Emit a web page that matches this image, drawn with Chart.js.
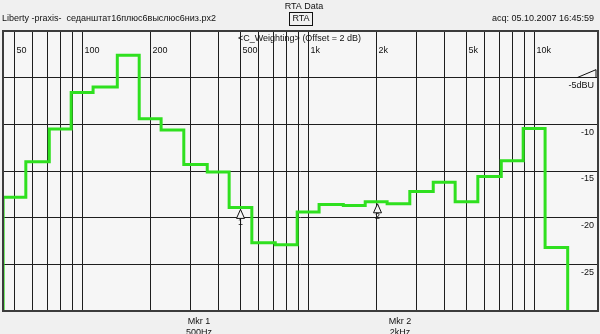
<!DOCTYPE html>
<html>
<head>
<meta charset="utf-8">
<script src="https://cdn.jsdelivr.net/npm/chart.js@4"></script>
<style>
  html, body { margin: 0; padding: 0; background: #f0f0f0; }
  #wrap { position: relative; width: 600px; height: 334px; }
</style>
</head>
<body>
<div id="wrap"><canvas id="rtaChart" width="600" height="334"></canvas></div>
<script>
// 1/3 octave bands (Hz) and measured levels (dB)
const bandCenters = [50, 63, 80, 100, 125, 160, 200, 250, 315, 400, 500, 630, 800,
    1000, 1250, 1600, 2000, 2500, 3150, 4000, 5000, 6300, 8000, 10000, 12500];
const bandLevels = [-17.8, -14.0, -10.5, -6.6, -6.0, -2.6, -9.4, -10.6, -14.3, -15.1, -18.9, -22.7, -22.9,
    -19.4, -18.6, -18.7, -18.3, -18.5, -17.2, -16.2, -18.3, -15.6, -13.9, -10.45, -23.2];

// axis grid + labels
const gridFreqs = [50, 60, 70, 80, 90, 100, 200, 300, 400, 500, 600, 700, 800, 900,
    1000, 2000, 3000, 4000, 5000, 6000, 7000, 8000, 9000, 10000];
const freqLabelValues = [50, 100, 200, 500, 1000, 2000, 5000, 10000];
const freqLabels = ['50', '100', '200', '500', '1k', '2k', '5k', '10k'];
const levelTickValues = [-5, -10, -15, -20, -25];
const levelTickLabels = ['-5dBU', '-10', '-15', '-20', '-25'];

// markers
const markerBands = [500, 2000];
const markerIds = ['1', '2'];
const markerNames = ['Mkr 1', 'Mkr 2'];
const markerFreqText = ['500Hz', '2kHz'];

const X_MIN = 44.5, X_MAX = 19100, Y_MIN = -30, Y_MAX = 0;
const FONT = '"Liberation Sans", Arial, sans-serif';

// stepped outline: each band level held from its lower edge to its upper edge
const halfBand = Math.pow(10, 0.05);
const nBands = bandCenters.length;
const stepPoints = [{ x: bandCenters[0] / halfBand, y: Y_MIN }];
bandCenters.forEach((f, i) => stepPoints.push({ x: f / halfBand, y: bandLevels[i] }));
const lastEdge = bandCenters[nBands - 1] * halfBand;
stepPoints.push({ x: lastEdge, y: bandLevels[nBands - 1] });
stepPoints.push({ x: lastEdge, y: Y_MIN });

const decorPlugin = {
    id: 'rtaDecor',
    beforeDraw(chart) {
        const ctx = chart.ctx, a = chart.chartArea;
        ctx.save();
        ctx.fillStyle = '#f0f0f0';
        ctx.fillRect(0, 0, chart.width, chart.height);
        ctx.fillStyle = '#f6f6f6';
        ctx.fillRect(a.left, a.top, a.right - a.left, a.bottom - a.top);
        ctx.restore();
    },
    afterDraw(chart) {
        const ctx = chart.ctx, a = chart.chartArea;
        const xs = chart.scales.x, ys = chart.scales.y;
        ctx.save();

        // frame
        ctx.strokeStyle = '#3c3c3c';
        ctx.lineWidth = 2;
        ctx.strokeRect(a.left, a.top, a.right - a.left, a.bottom - a.top);

        // header
        ctx.fillStyle = '#111';
        ctx.textBaseline = 'middle';
        ctx.font = '9px ' + FONT;
        ctx.textAlign = 'center';
        ctx.fillText('RTA Data', 304, 7);
        ctx.fillText('RTA', 301, 19);
        ctx.lineWidth = 1;
        ctx.strokeStyle = '#111';
        ctx.strokeRect(289.5, 12.5, 23, 13);
        ctx.textAlign = 'left';
        ctx.fillText('Liberty -praxis-  седанштат16плюс6выслюс6низ.px2', 2, 19);
        ctx.textAlign = 'right';
        ctx.fillText('acq: 05.10.2007 16:45:59', 594, 19);
        ctx.textAlign = 'left';
        ctx.fillText('<C_Weighting> (Offset = 2 dB)', 238, 39);

        // frequency labels inside top of plot
        freqLabelValues.forEach((f, i) => {
            ctx.fillText(freqLabels[i], xs.getPixelForValue(f) + 2, 51);
        });

        // level labels on the right
        ctx.textAlign = 'right';
        levelTickValues.forEach((v, i) => {
            ctx.fillText(levelTickLabels[i], 594, ys.getPixelForValue(v) + 8);
        });
        // small ramp symbol by the reference level
        const yRef = ys.getPixelForValue(levelTickValues[0]);
        ctx.beginPath();
        ctx.moveTo(577, yRef);
        ctx.lineTo(596, yRef - 8);
        ctx.lineTo(596, yRef);
        ctx.stroke();

        // markers on the trace
        markerBands.forEach((f, i) => {
            const idx = bandCenters.indexOf(f);
            const px = Math.round(xs.getPixelForValue(f)) + 0.5;
            const py = ys.getPixelForValue(bandLevels[idx]) + 2;
            ctx.fillStyle = '#f6f6f6';
            ctx.beginPath();
            ctx.moveTo(px, py);
            ctx.lineTo(px - 4, py + 9);
            ctx.lineTo(px + 4, py + 9);
            ctx.closePath();
            ctx.fill();
            ctx.stroke();
            ctx.fillStyle = '#111';
            ctx.textAlign = 'center';
            ctx.fillText(markerIds[i], px, py + 13);
        });

        // marker readouts below the plot
        const readX = [199, 400];
        markerNames.forEach((n, i) => {
            ctx.fillText(n, readX[i], 322);
            ctx.fillText(markerFreqText[i], readX[i], 333);
        });
        ctx.restore();
    }
};

new Chart(document.getElementById('rtaChart'), {
    type: 'line',
    data: {
        datasets: [{
            data: stepPoints,
            stepped: 'before',
            borderColor: '#2fe01f',
            borderWidth: 3,
            pointRadius: 0,
            fill: false
        }]
    },
    options: {
        responsive: false,
        animation: false,
        events: [],
        layout: { padding: { left: 3, right: 2, top: 31, bottom: 23 } },
        plugins: { legend: { display: false }, tooltip: { enabled: false } },
        scales: {
            x: {
                type: 'logarithmic',
                min: X_MIN,
                max: X_MAX,
                afterBuildTicks: (axis) => { axis.ticks = gridFreqs.map(v => ({ value: v })); },
                ticks: { display: false },
                grid: { color: '#1e1e1e', lineWidth: 1, drawTicks: false },
                border: { display: false }
            },
            y: {
                min: Y_MIN,
                max: Y_MAX,
                ticks: { display: false, stepSize: 5 },
                grid: { color: '#1e1e1e', lineWidth: 1, drawTicks: false },
                border: { display: false }
            }
        }
    },
    plugins: [decorPlugin]
});
</script>
</body>
</html>
